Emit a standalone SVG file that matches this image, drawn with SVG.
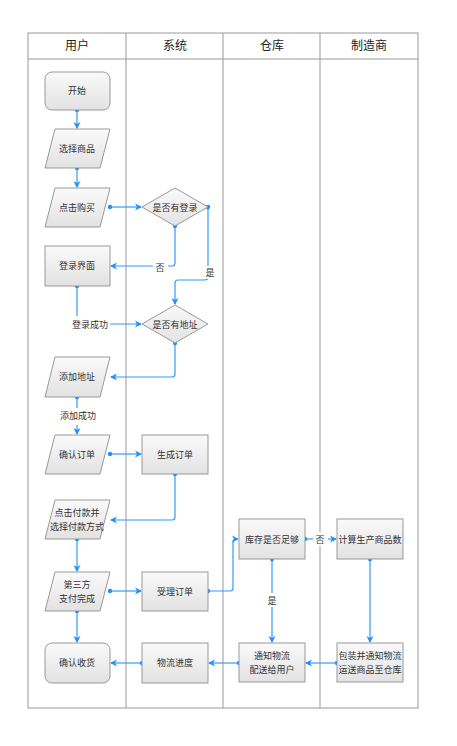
<svg xmlns="http://www.w3.org/2000/svg" width="457" height="746" viewBox="0 0 457 746">
<defs>
<linearGradient id="g" x1="0" y1="0" x2="0" y2="1">
<stop offset="0" stop-color="#fafafa"/>
<stop offset="1" stop-color="#e2e2e2"/>
</linearGradient>
<marker id="arr" markerWidth="8" markerHeight="8" refX="6" refY="4" orient="auto" markerUnits="userSpaceOnUse">
<path d="M0,0.5 L7,4 L0,7.5 L2,4 Z" fill="#1e90ff"/>
</marker>
<marker id="dot" markerWidth="6" markerHeight="6" refX="3" refY="3" markerUnits="userSpaceOnUse">
<circle cx="3" cy="3" r="2.2" fill="#1e90ff"/>
</marker>
</defs>
<style>
.lane{fill:none;stroke:#999;stroke-width:1}
.hd{font-family:"Liberation Sans","Noto Sans CJK SC",sans-serif;font-size:12px;fill:#222;text-anchor:middle}
.n{fill:url(#g);stroke:#999;stroke-width:1}
.t{font-family:"Liberation Sans","Noto Sans CJK SC",sans-serif;font-size:9px;fill:#333;text-anchor:middle;dominant-baseline:central}
.c{fill:none;stroke:#3399ff;stroke-width:1.2;marker-start:url(#dot);marker-end:url(#arr)}
.lb{fill:#fff}
</style>
<rect width="457" height="746" fill="#fff"/>
<g id="lanes">
<rect class="lane" x="28" y="33" width="390" height="675"/>
<line class="lane" x1="28" y1="59" x2="418" y2="59"/>
<line class="lane" x1="126" y1="33" x2="126" y2="708"/>
<line class="lane" x1="223" y1="33" x2="223" y2="708"/>
<line class="lane" x1="320" y1="33" x2="320" y2="708"/>
<text class="hd" x="77" y="50">用户</text>
<text class="hd" x="175" y="50">系统</text>
<text class="hd" x="272" y="50">仓库</text>
<text class="hd" x="369" y="50">制造商</text>
</g>
<g id="connectors">
<path class="c" d="M77,110 V128"/>
<path class="c" d="M77,168 V187"/>
<path class="c" d="M110,207 H141"/>
<path class="c" d="M175,226 V263 Q175,266 172,266 H111"/>
<path class="c" d="M208,207 V277 Q208,280 205,280 H178 Q175,280 175,283 V304"/>
<path class="c" d="M77,286 V321 Q77,324 80,324 H141"/>
<path class="c" d="M175,343 V374 Q175,377 172,377 H111"/>
<path class="c" d="M77,397 V434"/>
<path class="c" d="M110,454 H141"/>
<path class="c" d="M175,474 V517 Q175,520 172,520 H111"/>
<path class="c" d="M77,539 V571"/>
<path class="c" d="M110,591 H141"/>
<path class="c" d="M208,591 H230 Q233,591 233,588 V542 Q233,539 236,539 H238"/>
<path class="c" d="M77,611 V642"/>
<path class="c" d="M305,539 H336"/>
<path class="c" d="M272,559 V642"/>
<path class="c" d="M370,559 V642"/>
<path class="c" d="M337,663 H306"/>
<path class="c" d="M239,663 H209"/>
<path class="c" d="M142,663 H111"/>
<rect class="lb" x="153" y="261" width="15" height="13"/>
<text class="t" x="160" y="268">否</text>
<rect class="lb" x="203" y="266" width="15" height="13"/>
<text class="t" x="210" y="273">是</text>
<rect class="lb" x="70" y="316" width="40" height="17"/>
<text class="t" x="90" y="325">登录成功</text>
<rect class="lb" x="57" y="408" width="40" height="17"/>
<text class="t" x="78" y="416">添加成功</text>
<rect class="lb" x="313" y="532" width="15" height="14"/>
<text class="t" x="320" y="540">否</text>
<rect class="lb" x="265" y="593" width="15" height="14"/>
<text class="t" x="272" y="601">是</text>
</g>
<g id="start"><rect class="n" x="45" y="72" width="65" height="38" rx="7"/><text class="t" x="77" y="91">开始</text></g>
<g id="select"><polygon class="n" points="55,129 110,129 100,168 45,168"/><text class="t" x="77" y="149">选择商品</text></g>
<g id="buy"><polygon class="n" points="55,188 110,188 100,227 45,227"/><text class="t" x="77" y="208">点击购买</text></g>
<g id="logged"><polygon class="n" points="175,188 208,207 175,226 142,207"/><text class="t" x="175" y="208">是否有登录</text></g>
<g id="login"><rect class="n" x="45" y="246" width="65" height="40"/><text class="t" x="77" y="266">登录界面</text></g>
<g id="hasaddr"><polygon class="n" points="175,305 208,324 175,343 142,324"/><text class="t" x="175" y="325">是否有地址</text></g>
<g id="addaddr"><polygon class="n" points="55,357 110,357 100,397 45,397"/><text class="t" x="77" y="377">添加地址</text></g>
<g id="confirm"><polygon class="n" points="55,435 110,435 100,474 45,474"/><text class="t" x="77" y="455">确认订单</text></g>
<g id="genorder"><rect class="n" x="142" y="435" width="66" height="39"/><text class="t" x="175" y="455">生成订单</text></g>
<g id="pay"><polygon class="n" points="55,500 110,500 100,539 45,539"/><text class="t" x="77" y="513">点击付款并</text><text class="t" x="77" y="527">选择付款方式</text></g>
<g id="third"><polygon class="n" points="55,572 110,572 100,611 45,611"/><text class="t" x="77" y="585">第三方</text><text class="t" x="77" y="599">支付完成</text></g>
<g id="accept"><rect class="n" x="142" y="572" width="66" height="39"/><text class="t" x="175" y="592">受理订单</text></g>
<g id="stock"><rect class="n" x="239" y="519" width="66" height="40"/><text class="t" x="272" y="540">库存是否足够</text></g>
<g id="calc"><rect class="n" x="337" y="519" width="66" height="40"/><text class="t" x="370" y="540">计算生产商品数</text></g>
<g id="receive"><rect class="n" x="45" y="643" width="65" height="40" rx="7"/><text class="t" x="77" y="663">确认收货</text></g>
<g id="progress"><rect class="n" x="142" y="643" width="66" height="40"/><text class="t" x="175" y="663">物流进度</text></g>
<g id="notify"><rect class="n" x="239" y="643" width="66" height="39"/><text class="t" x="272" y="656">通知物流</text><text class="t" x="272" y="670">配送给用户</text></g>
<g id="pack"><rect class="n" x="337" y="643" width="66" height="39"/><text class="t" x="370" y="656">包装并通知物流</text><text class="t" x="370" y="670">运送商品至仓库</text></g>
</svg>
